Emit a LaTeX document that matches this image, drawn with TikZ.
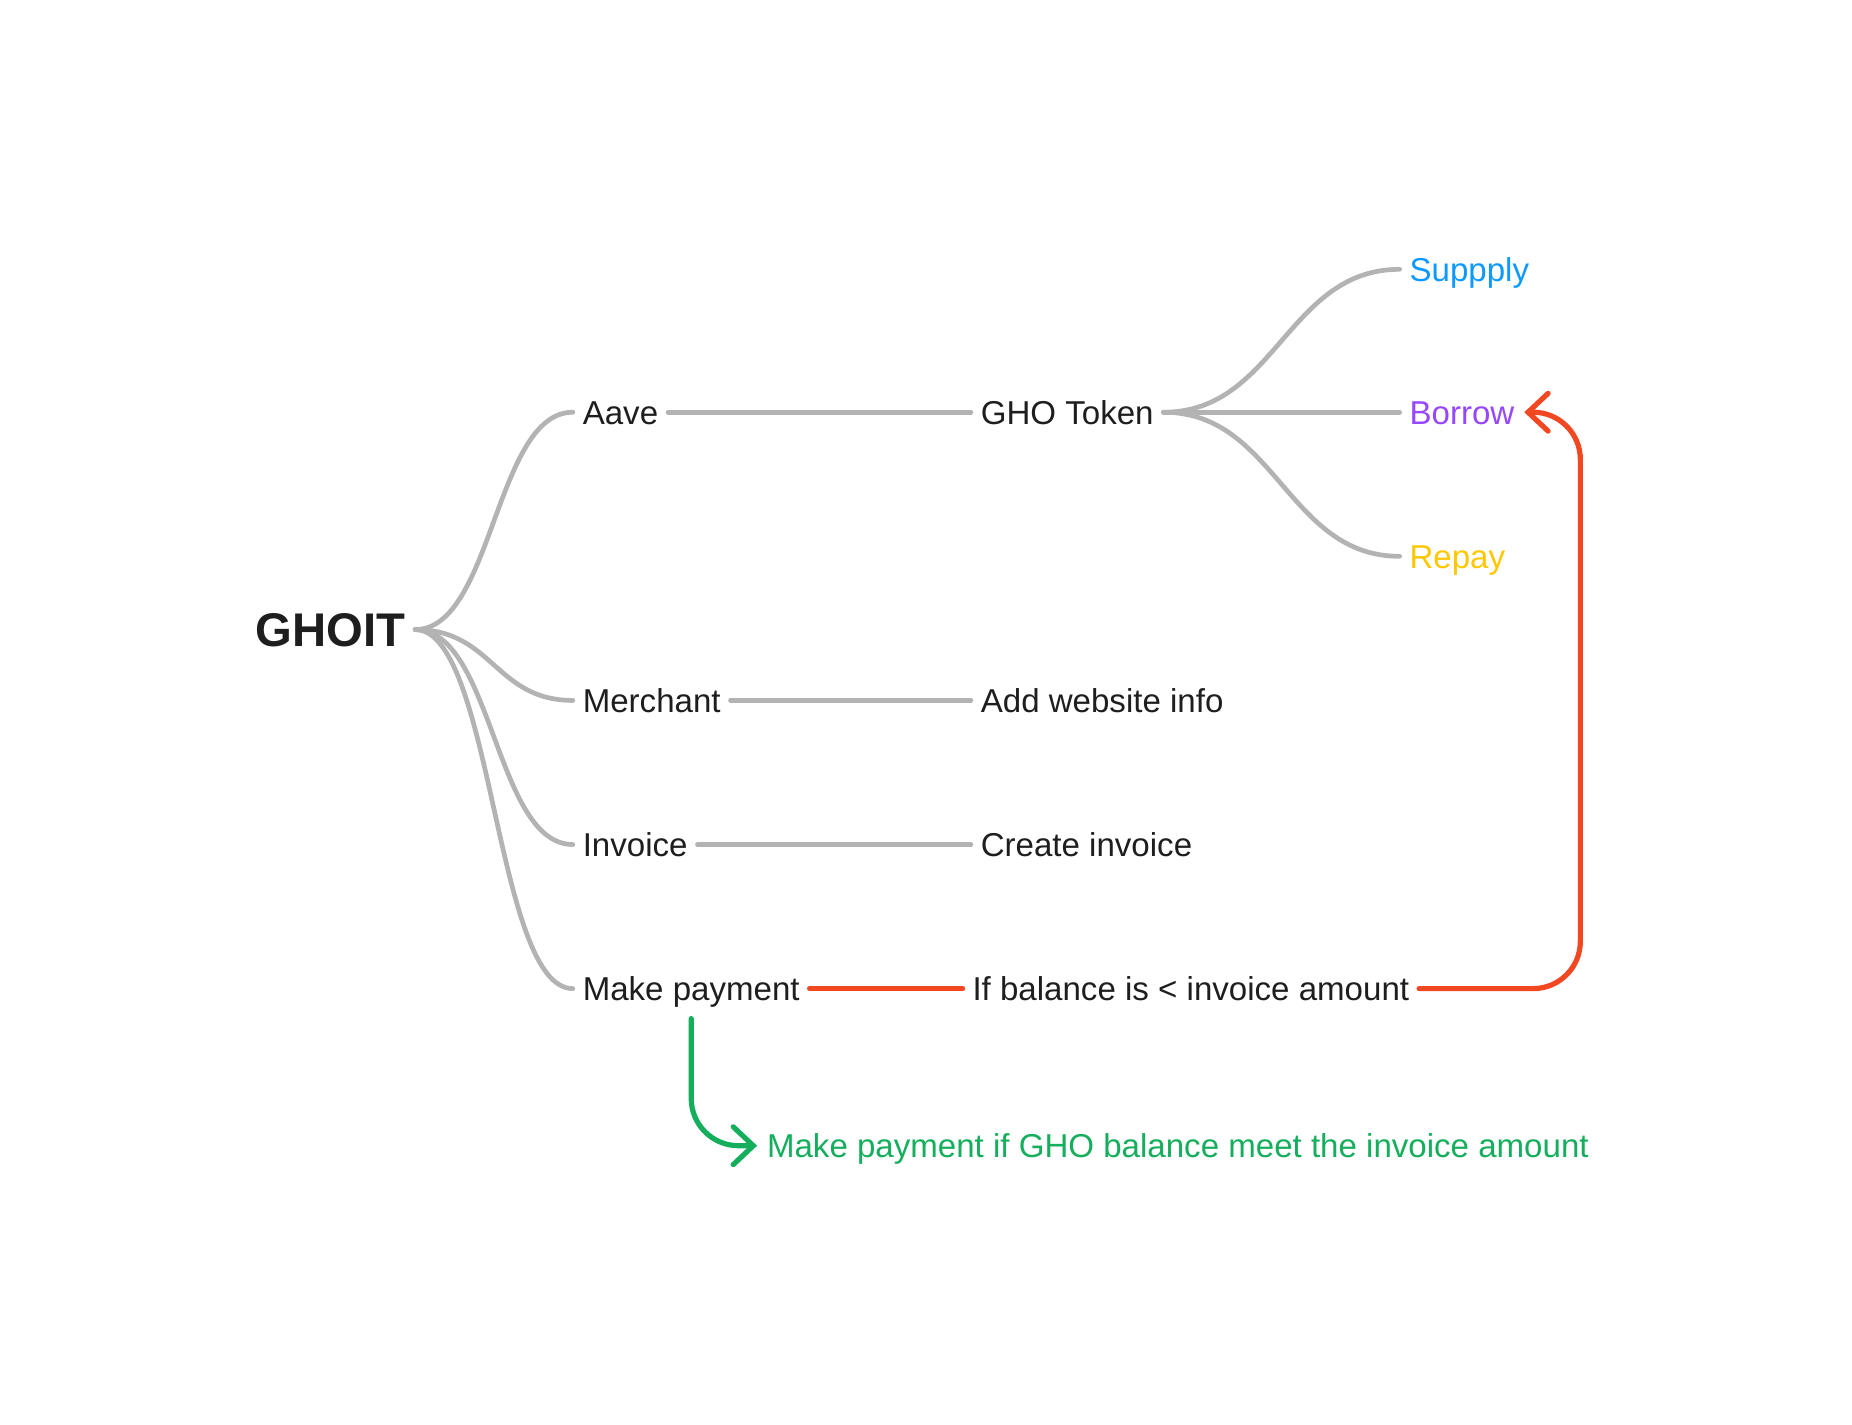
\documentclass[tikz,border=0pt]{standalone}
\usepackage{fontspec}
\setmainfont{Liberation Sans}
\usetikzlibrary{arrows.meta}
\definecolor{inkblack}{HTML}{1E1E1E}
\definecolor{linegray}{HTML}{B3B3B3}
\definecolor{figred}{HTML}{F24822}
\definecolor{figgreen}{HTML}{14AE5C}
\definecolor{figblue}{HTML}{0D99FF}
\definecolor{figpurple}{HTML}{9747FF}
\definecolor{figyellow}{HTML}{FFC700}
\begin{document}
\begin{tikzpicture}[x=0.5pt, y=0.5pt,
	idea/.style={anchor=west, inner xsep=4pt, inner ysep=3pt, text height=10pt, text depth=0pt, text=inkblack, font=\fontsize{14}{16}\selectfont},
	rootidea/.style={idea, text height=14.3pt, font=\fontsize{20}{24}\selectfont\bfseries},
	branch/.style={draw=linegray, line width=2pt, line cap=round},
	flowline/.style={line width=2.2pt, line cap=round, rounded corners=20pt},
	tip/.style={-{Straight Barb[length=8.5pt, width=16pt, line cap=round]}}]
	  \useasboundingbox (0,0) rectangle (1568,-1206);
	  % map
	  \node[rootidea] (ghoit) at (208,-533) {GHOIT};
	  \node[idea] (aave) at (485,-349) {Aave};
	  \node[idea] (merchant) at (485,-593) {Merchant};
	  \node[idea] (invoice) at (485,-715) {Invoice};
	  \node[idea] (pay) at (485,-837) {Make payment};
	  \node[idea] (gho) at (822,-349) {GHO Token};
	  \node[idea] (website) at (822,-593) {Add website info};
	  \node[idea] (create) at (822,-715) {Create invoice};
	  \node[idea] (check) at (815,-837) {If balance is < invoice amount};
	  \node[idea, text=figblue] (supply) at (1185,-228) {Suppply};
	  \node[idea, text=figpurple] (borrow) at (1185,-349) {Borrow};
	  \node[idea, text=figyellow] (repay) at (1185,-471) {Repay};
	  \node[idea, text=figgreen] (paynote) at (641,-970) {Make payment if GHO balance meet the invoice amount};
	  \foreach \n in {aave, merchant, invoice, pay}
	    \draw[branch] (ghoit.east) .. controls +(66,0) and +(-66,0) .. (\n.west);
	  \foreach \n in {supply, borrow, repay}
	    \draw[branch] (gho.east) .. controls +(95,0) and +(-95,0) .. (\n.west);
	  \draw[branch] (aave.east) -- (gho.west);
	  \draw[branch] (merchant.east) -- (website.west);
	  \draw[branch] (invoice.east) -- (create.west);
	  % payment flow
	  \coordinate (loop) at (1338,-349);
	  \draw[flowline, figred] (pay.east) -- (check.west);
	  \draw[flowline, figred, tip] (check.east) -| (loop) -- (borrow.east);
	  \draw[flowline, figgreen, tip, shorten <=4.5pt] (pay.south) |- (paynote.west);
	\end{tikzpicture}
\end{document}
